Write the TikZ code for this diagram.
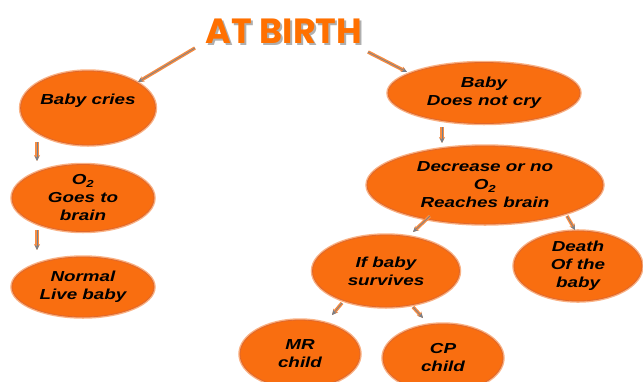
\documentclass[tikz,border=0pt]{standalone}
\usepackage{fontspec}
\usepackage{xcolor}
\usepackage{tikz}
\usetikzlibrary{arrows.meta, calc, shapes.geometric}
\newfontfamily\bubblefont{Liberation Sans}[FakeStretch=1.3]
\newfontfamily\titlefont{Poppins}
\definecolor{blob}{RGB}{249,110,16}
\definecolor{blobedge}{RGB}{222,104,46}
\definecolor{glow}{RGB}{250,178,132}
\definecolor{linkglow}{RGB}{246,140,66}
\definecolor{linkcore}{RGB}{118,128,140}
\definecolor{headline}{RGB}{255,112,0}
\definecolor{shade}{RGB}{175,175,175}
% title text with a soft drop shadow behind it
\newcommand{\shadowed}[1]{%
  \makebox[0pt][l]{\hspace{2pt}\raisebox{-2pt}{\textcolor{shade}{#1}}}%
  \textcolor{headline}{#1}}
\tikzset{
  font=\bubblefont\bfseries\itshape\fontsize{14.5}{18}\selectfont,
  %
  bubble/.style={
    ellipse, fill=blob, draw=blobedge, line width=0.8pt,
    preaction={draw=glow, line width=3.5pt},
    inner sep=0pt, align=center, text=black,
  },
  %
  link/.style={
    draw=linkcore, line width=0.7pt, -{Stealth[length=5pt, width=4.5pt]},
    preaction={draw=linkglow, line width=3.5pt, -{Stealth[length=6pt, width=6pt]}},
  },
  %
  headtxt/.style={font=\titlefont\bfseries\fontsize{35}{40}\selectfont, inner sep=0pt},
}
\begin{document}
\begin{tikzpicture}[x=1pt, y=-1pt]

  \useasboundingbox (0,0) rectangle (643,381);

  % title
  \node[headtxt] (title) at (284,32) {\shadowed{AT BIRTH}};

  % left branch
  \node[bubble, minimum width=131pt, minimum height=74pt, text depth=18pt]
    (cries) at (88,108) {Baby cries};
  \node[bubble, minimum width=142pt, minimum height=67pt]
    (o2) at (83,198) {O\textsubscript{2}\\Goes to\\brain};
  \node[bubble, minimum width=142pt, minimum height=60pt]
    (normal) at (83,287) {Normal\\Live baby};

  % right branch
  \node[bubble, minimum width=192pt, minimum height=61pt]
    (nocry) at (484,93) {Baby\\Does not cry};
  \node[bubble, minimum width=236pt, minimum height=78pt]
    (decrease) at (485,185) {Decrease or no\\O\textsubscript{2}\\Reaches brain};
  \node[bubble, minimum width=147pt, minimum height=72pt]
    (survives) at (386,271) {If baby\\survives};
  \node[bubble, minimum width=128pt, minimum height=70pt]
    (death) at (578,266) {Death\\Of the\\baby};
  \node[bubble, minimum width=120pt, minimum height=68pt]
    (mr) at (300,354) {MR\\child};
  \node[bubble, minimum width=120pt, minimum height=68pt]
    (cp) at (443,358) {CP\\child};

  % connectors
  \draw[link] ($(title)+(-89,16)$) -- ($(cries)+(50,-26)$);
  \draw[link] ($(title)+(84,20)$) -- ($(nocry)+(-77,-21)$);
  \draw[link] ($(cries)+(-51,34)$) -- ($(o2)+(-46,-37)$);
  \draw[link] ($(o2)+(-46,32)$) -- ($(normal)+(-46,-37)$);
  \draw[link] ($(nocry)+(-42,34)$) -- ($(decrease)+(-43,-42)$);
  \draw[link] ($(decrease)+(-55,31)$) -- ($(survives)+(27,-39)$);
  \draw[link] ($(decrease)+(82,31)$) -- ($(death)+(-3,-36)$);
  \draw[link] ($(survives)+(-44,32)$) -- ($(mr)+(32,-39)$);
  \draw[link] ($(survives)+(27,36)$) -- ($(cp)+(-20,-40)$);

\end{tikzpicture}
\end{document}
